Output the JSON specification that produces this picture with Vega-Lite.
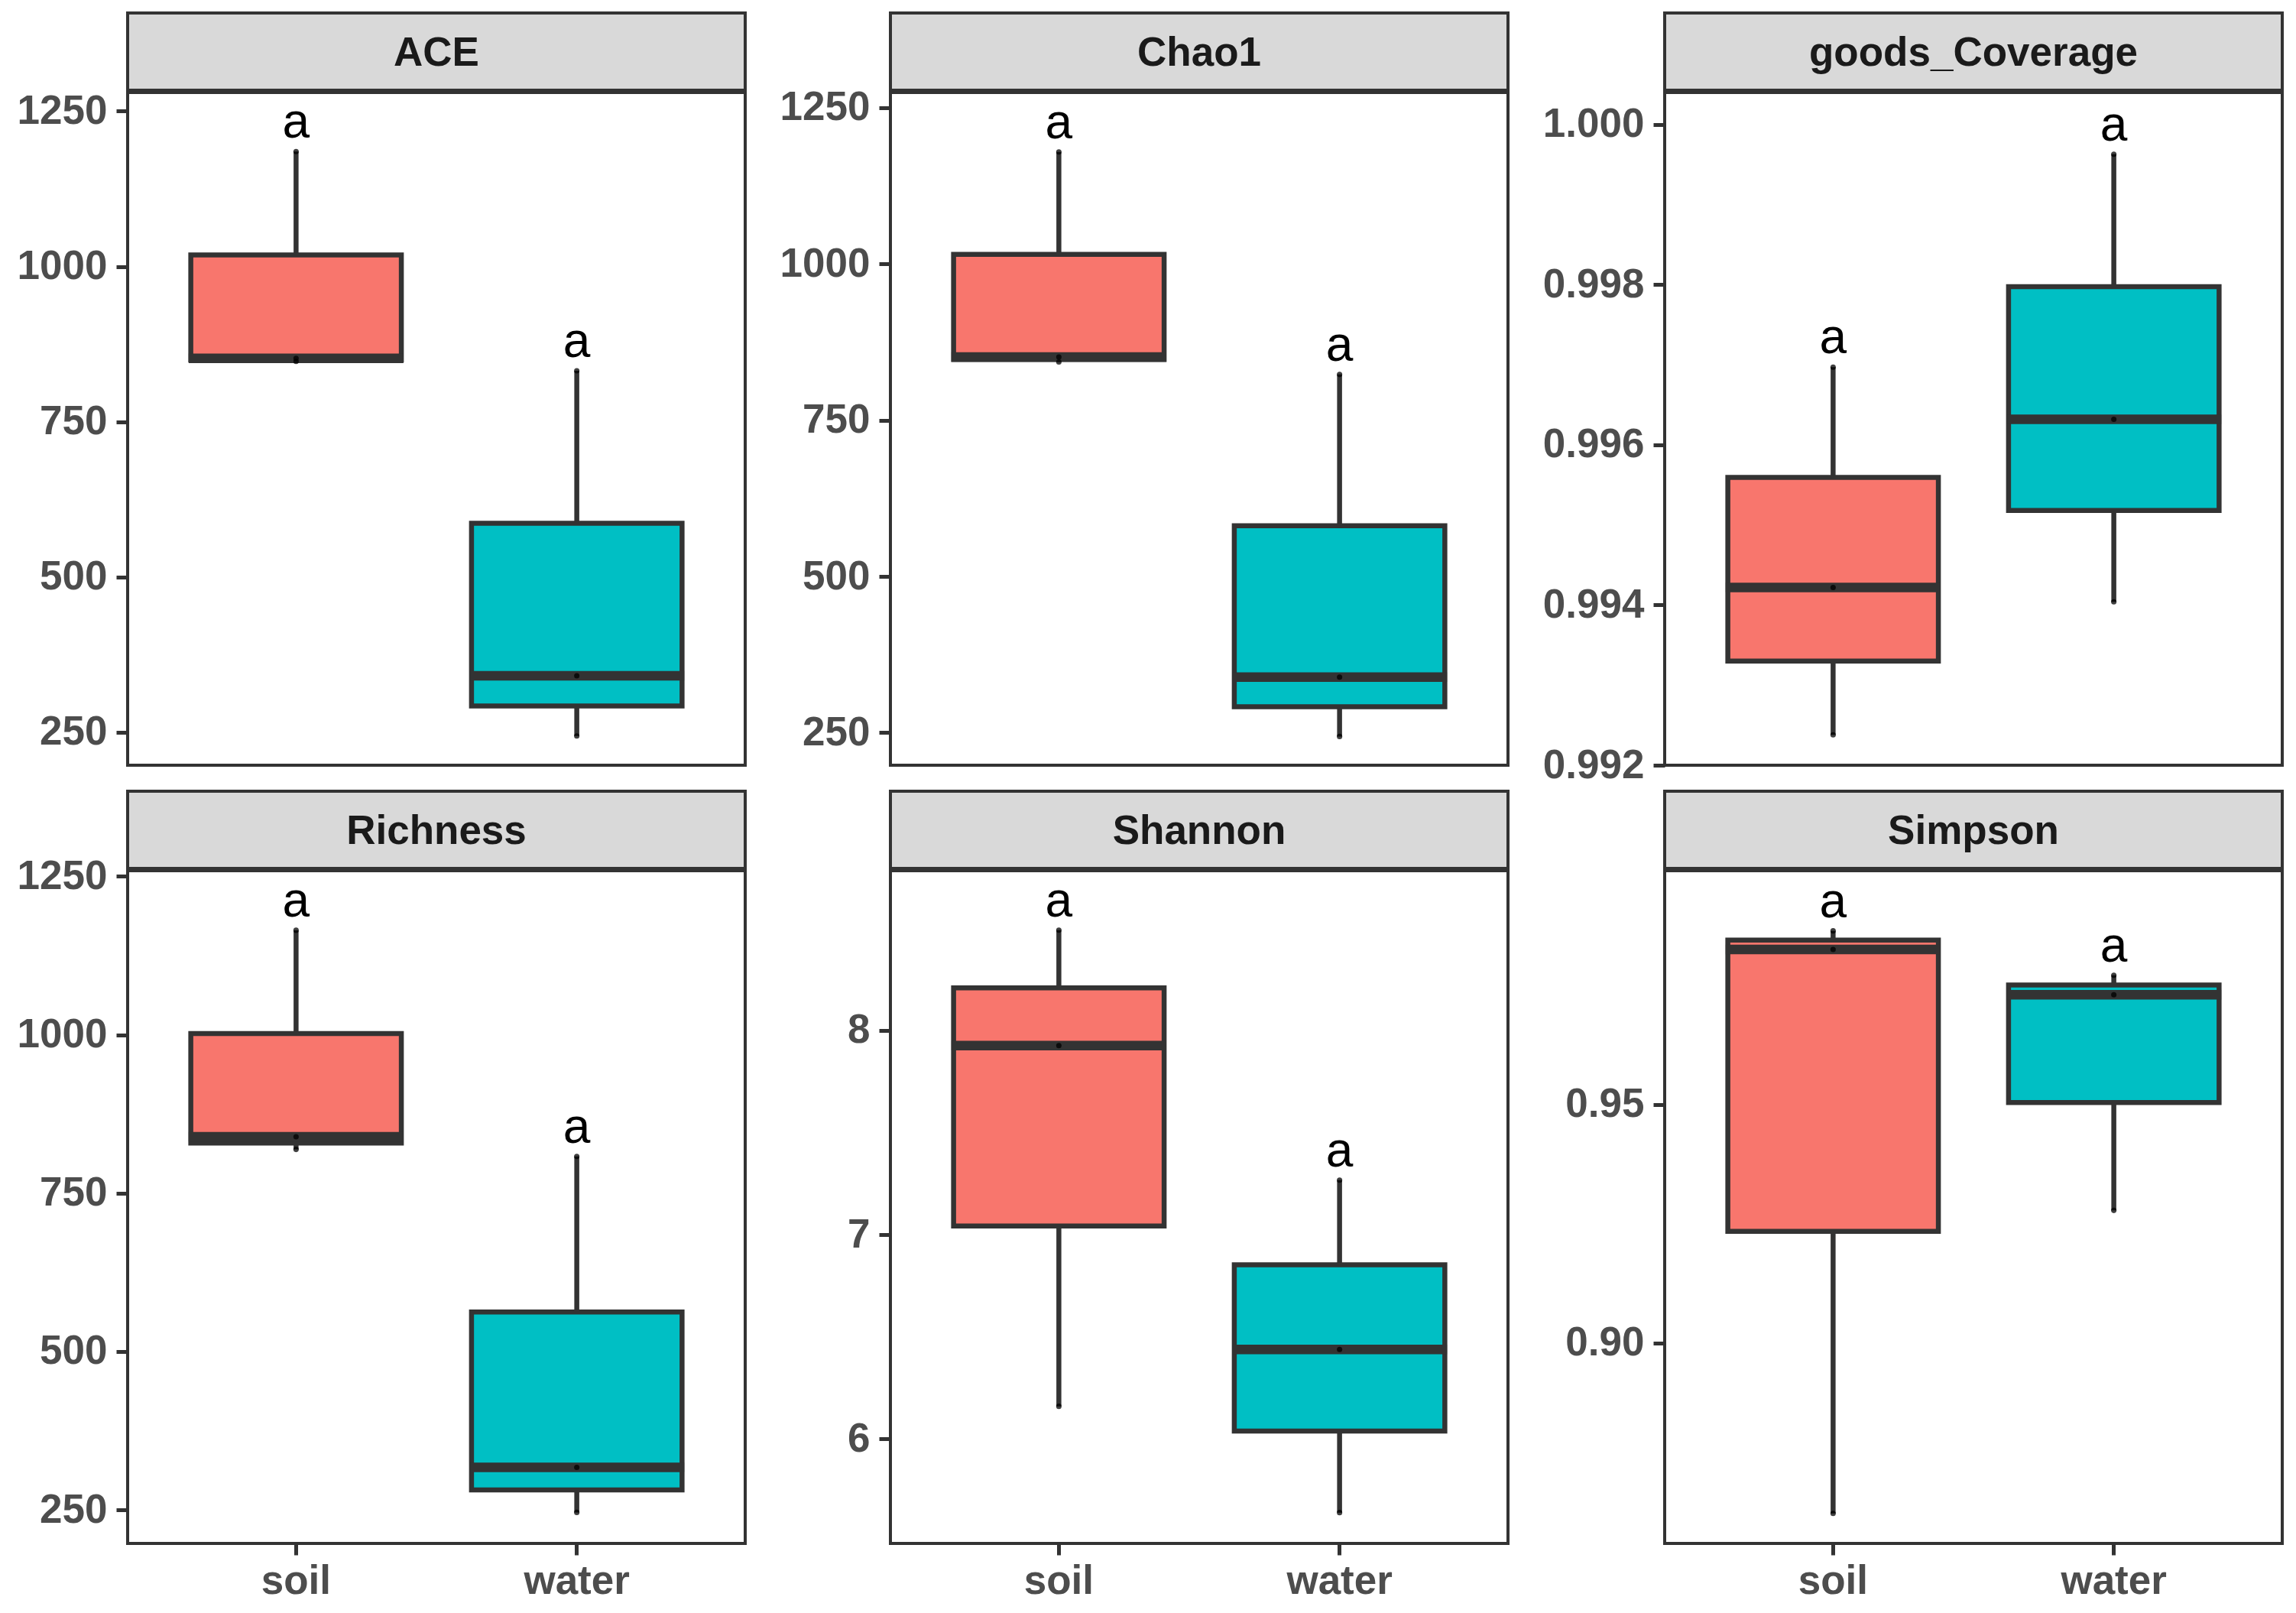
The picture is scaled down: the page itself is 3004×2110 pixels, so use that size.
{
  "$schema": "https://vega.github.io/schema/vega-lite/v6.json",
  "background": "white",
  "padding": {"left": 20, "top": 15, "right": 5, "bottom": 5},
  "data": {"values": [
    {"metric": "ACE", "group": "soil", "value": 847, "sig": "a"},
    {"metric": "ACE", "group": "soil", "value": 852, "sig": "a"},
    {"metric": "ACE", "group": "soil", "value": 1185, "sig": "a"},
    {"metric": "ACE", "group": "water", "value": 244, "sig": "a"},
    {"metric": "ACE", "group": "water", "value": 341, "sig": "a"},
    {"metric": "ACE", "group": "water", "value": 832, "sig": "a"},
    {"metric": "Chao1", "group": "soil", "value": 843, "sig": "a"},
    {"metric": "Chao1", "group": "soil", "value": 851, "sig": "a"},
    {"metric": "Chao1", "group": "soil", "value": 1179, "sig": "a"},
    {"metric": "Chao1", "group": "water", "value": 244, "sig": "a"},
    {"metric": "Chao1", "group": "water", "value": 339, "sig": "a"},
    {"metric": "Chao1", "group": "water", "value": 823, "sig": "a"},
    {"metric": "goods_Coverage", "group": "soil", "value": 0.99238, "sig": "a"},
    {"metric": "goods_Coverage", "group": "soil", "value": 0.99422, "sig": "a"},
    {"metric": "goods_Coverage", "group": "soil", "value": 0.99697, "sig": "a"},
    {"metric": "goods_Coverage", "group": "water", "value": 0.99404, "sig": "a"},
    {"metric": "goods_Coverage", "group": "water", "value": 0.99632, "sig": "a"},
    {"metric": "goods_Coverage", "group": "water", "value": 0.99963, "sig": "a"},
    {"metric": "Richness", "group": "soil", "value": 819, "sig": "a"},
    {"metric": "Richness", "group": "soil", "value": 839, "sig": "a"},
    {"metric": "Richness", "group": "soil", "value": 1165, "sig": "a"},
    {"metric": "Richness", "group": "water", "value": 246, "sig": "a"},
    {"metric": "Richness", "group": "water", "value": 317, "sig": "a"},
    {"metric": "Richness", "group": "water", "value": 808, "sig": "a"},
    {"metric": "Shannon", "group": "soil", "value": 6.16, "sig": "a"},
    {"metric": "Shannon", "group": "soil", "value": 7.925, "sig": "a"},
    {"metric": "Shannon", "group": "soil", "value": 8.49, "sig": "a"},
    {"metric": "Shannon", "group": "water", "value": 5.64, "sig": "a"},
    {"metric": "Shannon", "group": "water", "value": 6.438, "sig": "a"},
    {"metric": "Shannon", "group": "water", "value": 7.267, "sig": "a"},
    {"metric": "Simpson", "group": "soil", "value": 0.8643, "sig": "a"},
    {"metric": "Simpson", "group": "soil", "value": 0.9825, "sig": "a"},
    {"metric": "Simpson", "group": "soil", "value": 0.9864, "sig": "a"},
    {"metric": "Simpson", "group": "water", "value": 0.9278, "sig": "a"},
    {"metric": "Simpson", "group": "water", "value": 0.973, "sig": "a"},
    {"metric": "Simpson", "group": "water", "value": 0.9771, "sig": "a"}
  ]},
  "columns": 3,
  "align": "each",
  "spacing": {"row": 3, "column": 41},
  "concat": [
    {"spacing": 3, "bounds": "flush", "vconcat": [
      {"width": 808, "height": 101, "view": {"fill": "#D9D9D9", "stroke": "#333333", "strokeWidth": 4},
       "transform": [{"filter": "datum.metric === 'ACE'"}, {"aggregate": [{"op": "count", "as": "n"}], "groupby": ["metric"]}],
       "mark": {"type": "text", "font": "Liberation Sans", "fontSize": 53, "fontWeight": "bold", "color": "#1A1A1A", "baseline": "middle", "dy": 2},
       "encoding": {"text": {"field": "metric"}}},
      {"width": 808, "height": 880,
       "transform": [{"filter": "datum.metric === 'ACE'"}],
       "encoding": {"x": {"field": "group", "type": "nominal", "scale": {"type": "band", "domain": ["soil", "water"], "paddingInner": 0.25, "paddingOuter": 0.225}, "axis": null}},
       "layer": [
         {"transform": [{"aggregate": [{"op": "min", "field": "value", "as": "lo"}, {"op": "max", "field": "value", "as": "hi"}], "groupby": ["group"]}],
          "mark": {"type": "rule", "stroke": "#333333", "strokeWidth": 6.5},
          "encoding": {"y": {"field": "lo", "type": "quantitative", "title": null, "scale": {"domain": [197, 1280], "nice": false, "zero": false}, "axis": {"values": [250, 500, 750, 1000, 1250], "format": "d"}}, "y2": {"field": "hi"}}},
         {"mark": {"type": "bar", "stroke": "#333333", "strokeWidth": 6.5},
          "encoding": {"y": {"aggregate": "q1", "field": "value", "type": "quantitative", "title": null}, "y2": {"aggregate": "q3", "field": "value"}, "fill": {"field": "group", "type": "nominal", "scale": {"domain": ["soil", "water"], "range": ["#F8766D", "#00BFC4"]}, "legend": null}}},
         {"mark": {"type": "tick", "orient": "horizontal", "color": "#333333", "thickness": 12.5, "size": 281, "opacity": 1},
          "encoding": {"y": {"aggregate": "median", "field": "value", "type": "quantitative", "title": null}}},
         {"mark": {"type": "point", "filled": true, "color": "#000000", "opacity": 0.75, "size": 50},
          "encoding": {"y": {"field": "value", "type": "quantitative", "title": null}}},
         {"transform": [{"aggregate": [{"op": "max", "field": "value", "as": "hi"}], "groupby": ["group", "sig"]}],
          "mark": {"type": "text", "font": "Liberation Sans", "fontSize": 64, "color": "#000000", "baseline": "alphabetic", "dy": -18},
          "encoding": {"y": {"field": "hi", "type": "quantitative", "title": null}, "text": {"field": "sig"}}}
       ]}
    ]},
    {"spacing": 3, "bounds": "flush", "vconcat": [
      {"width": 808, "height": 101, "view": {"fill": "#D9D9D9", "stroke": "#333333", "strokeWidth": 4},
       "transform": [{"filter": "datum.metric === 'Chao1'"}, {"aggregate": [{"op": "count", "as": "n"}], "groupby": ["metric"]}],
       "mark": {"type": "text", "font": "Liberation Sans", "fontSize": 53, "fontWeight": "bold", "color": "#1A1A1A", "baseline": "middle", "dy": 2},
       "encoding": {"text": {"field": "metric"}}},
      {"width": 808, "height": 880,
       "transform": [{"filter": "datum.metric === 'Chao1'"}],
       "encoding": {"x": {"field": "group", "type": "nominal", "scale": {"type": "band", "domain": ["soil", "water"], "paddingInner": 0.25, "paddingOuter": 0.225}, "axis": null}},
       "layer": [
         {"transform": [{"aggregate": [{"op": "min", "field": "value", "as": "lo"}, {"op": "max", "field": "value", "as": "hi"}], "groupby": ["group"]}],
          "mark": {"type": "rule", "stroke": "#333333", "strokeWidth": 6.5},
          "encoding": {"y": {"field": "lo", "type": "quantitative", "title": null, "scale": {"domain": [198, 1274], "nice": false, "zero": false}, "axis": {"values": [250, 500, 750, 1000, 1250], "format": "d"}}, "y2": {"field": "hi"}}},
         {"mark": {"type": "bar", "stroke": "#333333", "strokeWidth": 6.5},
          "encoding": {"y": {"aggregate": "q1", "field": "value", "type": "quantitative", "title": null}, "y2": {"aggregate": "q3", "field": "value"}, "fill": {"field": "group", "type": "nominal", "scale": {"domain": ["soil", "water"], "range": ["#F8766D", "#00BFC4"]}, "legend": null}}},
         {"mark": {"type": "tick", "orient": "horizontal", "color": "#333333", "thickness": 12.5, "size": 281, "opacity": 1},
          "encoding": {"y": {"aggregate": "median", "field": "value", "type": "quantitative", "title": null}}},
         {"mark": {"type": "point", "filled": true, "color": "#000000", "opacity": 0.75, "size": 50},
          "encoding": {"y": {"field": "value", "type": "quantitative", "title": null}}},
         {"transform": [{"aggregate": [{"op": "max", "field": "value", "as": "hi"}], "groupby": ["group", "sig"]}],
          "mark": {"type": "text", "font": "Liberation Sans", "fontSize": 64, "color": "#000000", "baseline": "alphabetic", "dy": -18},
          "encoding": {"y": {"field": "hi", "type": "quantitative", "title": null}, "text": {"field": "sig"}}}
       ]}
    ]},
    {"spacing": 3, "bounds": "flush", "vconcat": [
      {"width": 808, "height": 101, "view": {"fill": "#D9D9D9", "stroke": "#333333", "strokeWidth": 4},
       "transform": [{"filter": "datum.metric === 'goods_Coverage'"}, {"aggregate": [{"op": "count", "as": "n"}], "groupby": ["metric"]}],
       "mark": {"type": "text", "font": "Liberation Sans", "fontSize": 53, "fontWeight": "bold", "color": "#1A1A1A", "baseline": "middle", "dy": 2},
       "encoding": {"text": {"field": "metric"}}},
      {"width": 808, "height": 880,
       "transform": [{"filter": "datum.metric === 'goods_Coverage'"}],
       "encoding": {"x": {"field": "group", "type": "nominal", "scale": {"type": "band", "domain": ["soil", "water"], "paddingInner": 0.25, "paddingOuter": 0.225}, "axis": null}},
       "layer": [
         {"transform": [{"aggregate": [{"op": "min", "field": "value", "as": "lo"}, {"op": "max", "field": "value", "as": "hi"}], "groupby": ["group"]}],
          "mark": {"type": "rule", "stroke": "#333333", "strokeWidth": 6.5},
          "encoding": {"y": {"field": "lo", "type": "quantitative", "title": null, "scale": {"domain": [0.992, 1.0004], "nice": false, "zero": false}, "axis": {"values": [0.992, 0.994, 0.996, 0.998, 1.0], "format": ".3f"}}, "y2": {"field": "hi"}}},
         {"mark": {"type": "bar", "stroke": "#333333", "strokeWidth": 6.5},
          "encoding": {"y": {"aggregate": "q1", "field": "value", "type": "quantitative", "title": null}, "y2": {"aggregate": "q3", "field": "value"}, "fill": {"field": "group", "type": "nominal", "scale": {"domain": ["soil", "water"], "range": ["#F8766D", "#00BFC4"]}, "legend": null}}},
         {"mark": {"type": "tick", "orient": "horizontal", "color": "#333333", "thickness": 12.5, "size": 281, "opacity": 1},
          "encoding": {"y": {"aggregate": "median", "field": "value", "type": "quantitative", "title": null}}},
         {"mark": {"type": "point", "filled": true, "color": "#000000", "opacity": 0.75, "size": 50},
          "encoding": {"y": {"field": "value", "type": "quantitative", "title": null}}},
         {"transform": [{"aggregate": [{"op": "max", "field": "value", "as": "hi"}], "groupby": ["group", "sig"]}],
          "mark": {"type": "text", "font": "Liberation Sans", "fontSize": 64, "color": "#000000", "baseline": "alphabetic", "dy": -18},
          "encoding": {"y": {"field": "hi", "type": "quantitative", "title": null}, "text": {"field": "sig"}}}
       ]}
    ]},
    {"spacing": 3, "bounds": "flush", "vconcat": [
      {"width": 808, "height": 101, "view": {"fill": "#D9D9D9", "stroke": "#333333", "strokeWidth": 4},
       "transform": [{"filter": "datum.metric === 'Richness'"}, {"aggregate": [{"op": "count", "as": "n"}], "groupby": ["metric"]}],
       "mark": {"type": "text", "font": "Liberation Sans", "fontSize": 53, "fontWeight": "bold", "color": "#1A1A1A", "baseline": "middle", "dy": 2},
       "encoding": {"text": {"field": "metric"}}},
      {"width": 808, "height": 880,
       "transform": [{"filter": "datum.metric === 'Richness'"}],
       "encoding": {"x": {"field": "group", "type": "nominal", "title": null, "scale": {"type": "band", "domain": ["soil", "water"], "paddingInner": 0.25, "paddingOuter": 0.225}, "axis": {"labelAngle": 0, "labelPadding": 8}}},
       "layer": [
         {"transform": [{"aggregate": [{"op": "min", "field": "value", "as": "lo"}, {"op": "max", "field": "value", "as": "hi"}], "groupby": ["group"]}],
          "mark": {"type": "rule", "stroke": "#333333", "strokeWidth": 6.5},
          "encoding": {"y": {"field": "lo", "type": "quantitative", "title": null, "scale": {"domain": [197, 1259], "nice": false, "zero": false}, "axis": {"values": [250, 500, 750, 1000, 1250], "format": "d"}}, "y2": {"field": "hi"}}},
         {"mark": {"type": "bar", "stroke": "#333333", "strokeWidth": 6.5},
          "encoding": {"y": {"aggregate": "q1", "field": "value", "type": "quantitative", "title": null}, "y2": {"aggregate": "q3", "field": "value"}, "fill": {"field": "group", "type": "nominal", "scale": {"domain": ["soil", "water"], "range": ["#F8766D", "#00BFC4"]}, "legend": null}}},
         {"mark": {"type": "tick", "orient": "horizontal", "color": "#333333", "thickness": 12.5, "size": 281, "opacity": 1},
          "encoding": {"y": {"aggregate": "median", "field": "value", "type": "quantitative", "title": null}}},
         {"mark": {"type": "point", "filled": true, "color": "#000000", "opacity": 0.75, "size": 50},
          "encoding": {"y": {"field": "value", "type": "quantitative", "title": null}}},
         {"transform": [{"aggregate": [{"op": "max", "field": "value", "as": "hi"}], "groupby": ["group", "sig"]}],
          "mark": {"type": "text", "font": "Liberation Sans", "fontSize": 64, "color": "#000000", "baseline": "alphabetic", "dy": -18},
          "encoding": {"y": {"field": "hi", "type": "quantitative", "title": null}, "text": {"field": "sig"}}}
       ]}
    ]},
    {"spacing": 3, "bounds": "flush", "vconcat": [
      {"width": 808, "height": 101, "view": {"fill": "#D9D9D9", "stroke": "#333333", "strokeWidth": 4},
       "transform": [{"filter": "datum.metric === 'Shannon'"}, {"aggregate": [{"op": "count", "as": "n"}], "groupby": ["metric"]}],
       "mark": {"type": "text", "font": "Liberation Sans", "fontSize": 53, "fontWeight": "bold", "color": "#1A1A1A", "baseline": "middle", "dy": 2},
       "encoding": {"text": {"field": "metric"}}},
      {"width": 808, "height": 880,
       "transform": [{"filter": "datum.metric === 'Shannon'"}],
       "encoding": {"x": {"field": "group", "type": "nominal", "title": null, "scale": {"type": "band", "domain": ["soil", "water"], "paddingInner": 0.25, "paddingOuter": 0.225}, "axis": {"labelAngle": 0, "labelPadding": 8}}},
       "layer": [
         {"transform": [{"aggregate": [{"op": "min", "field": "value", "as": "lo"}, {"op": "max", "field": "value", "as": "hi"}], "groupby": ["group"]}],
          "mark": {"type": "rule", "stroke": "#333333", "strokeWidth": 6.5},
          "encoding": {"y": {"field": "lo", "type": "quantitative", "title": null, "scale": {"domain": [5.489, 8.781], "nice": false, "zero": false}, "axis": {"values": [6, 7, 8], "format": "d"}}, "y2": {"field": "hi"}}},
         {"mark": {"type": "bar", "stroke": "#333333", "strokeWidth": 6.5},
          "encoding": {"y": {"aggregate": "q1", "field": "value", "type": "quantitative", "title": null}, "y2": {"aggregate": "q3", "field": "value"}, "fill": {"field": "group", "type": "nominal", "scale": {"domain": ["soil", "water"], "range": ["#F8766D", "#00BFC4"]}, "legend": null}}},
         {"mark": {"type": "tick", "orient": "horizontal", "color": "#333333", "thickness": 12.5, "size": 281, "opacity": 1},
          "encoding": {"y": {"aggregate": "median", "field": "value", "type": "quantitative", "title": null}}},
         {"mark": {"type": "point", "filled": true, "color": "#000000", "opacity": 0.75, "size": 50},
          "encoding": {"y": {"field": "value", "type": "quantitative", "title": null}}},
         {"transform": [{"aggregate": [{"op": "max", "field": "value", "as": "hi"}], "groupby": ["group", "sig"]}],
          "mark": {"type": "text", "font": "Liberation Sans", "fontSize": 64, "color": "#000000", "baseline": "alphabetic", "dy": -18},
          "encoding": {"y": {"field": "hi", "type": "quantitative", "title": null}, "text": {"field": "sig"}}}
       ]}
    ]},
    {"spacing": 3, "bounds": "flush", "vconcat": [
      {"width": 808, "height": 101, "view": {"fill": "#D9D9D9", "stroke": "#333333", "strokeWidth": 4},
       "transform": [{"filter": "datum.metric === 'Simpson'"}, {"aggregate": [{"op": "count", "as": "n"}], "groupby": ["metric"]}],
       "mark": {"type": "text", "font": "Liberation Sans", "fontSize": 53, "fontWeight": "bold", "color": "#1A1A1A", "baseline": "middle", "dy": 2},
       "encoding": {"text": {"field": "metric"}}},
      {"width": 808, "height": 880,
       "transform": [{"filter": "datum.metric === 'Simpson'"}],
       "encoding": {"x": {"field": "group", "type": "nominal", "title": null, "scale": {"type": "band", "domain": ["soil", "water"], "paddingInner": 0.25, "paddingOuter": 0.225}, "axis": {"labelAngle": 0, "labelPadding": 8}}},
       "layer": [
         {"transform": [{"aggregate": [{"op": "min", "field": "value", "as": "lo"}, {"op": "max", "field": "value", "as": "hi"}], "groupby": ["group"]}],
          "mark": {"type": "rule", "stroke": "#333333", "strokeWidth": 6.5},
          "encoding": {"y": {"field": "lo", "type": "quantitative", "title": null, "scale": {"domain": [0.858, 0.999], "nice": false, "zero": false}, "axis": {"values": [0.9, 0.95], "format": ".2f"}}, "y2": {"field": "hi"}}},
         {"mark": {"type": "bar", "stroke": "#333333", "strokeWidth": 6.5},
          "encoding": {"y": {"aggregate": "q1", "field": "value", "type": "quantitative", "title": null}, "y2": {"aggregate": "q3", "field": "value"}, "fill": {"field": "group", "type": "nominal", "scale": {"domain": ["soil", "water"], "range": ["#F8766D", "#00BFC4"]}, "legend": null}}},
         {"mark": {"type": "tick", "orient": "horizontal", "color": "#333333", "thickness": 12.5, "size": 281, "opacity": 1},
          "encoding": {"y": {"aggregate": "median", "field": "value", "type": "quantitative", "title": null}}},
         {"mark": {"type": "point", "filled": true, "color": "#000000", "opacity": 0.75, "size": 50},
          "encoding": {"y": {"field": "value", "type": "quantitative", "title": null}}},
         {"transform": [{"aggregate": [{"op": "max", "field": "value", "as": "hi"}], "groupby": ["group", "sig"]}],
          "mark": {"type": "text", "font": "Liberation Sans", "fontSize": 64, "color": "#000000", "baseline": "alphabetic", "dy": -18},
          "encoding": {"y": {"field": "hi", "type": "quantitative", "title": null}, "text": {"field": "sig"}}}
       ]}
    ]}
  ],
  "config": {
    "font": "Liberation Sans",
    "view": {"stroke": "#333333", "strokeWidth": 4, "fill": "white"},
    "axis": {"grid": false, "domain": false, "labelFont": "Liberation Sans", "labelFontSize": 53, "labelFontWeight": "bold", "labelColor": "#4D4D4D", "tickColor": "#333333", "tickWidth": 5, "tickSize": 15, "labelPadding": 12}
  }
}
